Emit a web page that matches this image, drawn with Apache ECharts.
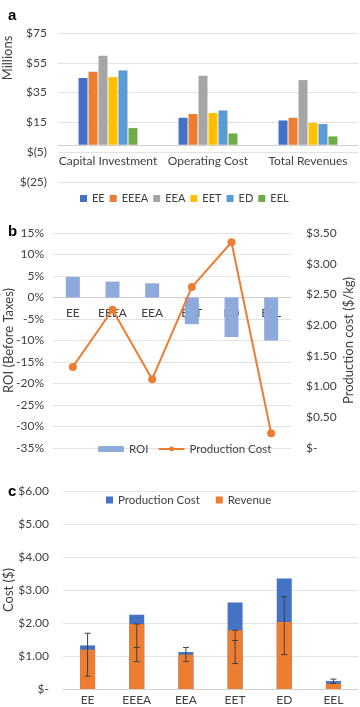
<!DOCTYPE html>
<html>
<head>
<meta charset="utf-8">
<script src="https://cdn.jsdelivr.net/npm/echarts@6/dist/echarts.min.js"></script>
<style>
  html, body { margin: 0; padding: 0; background: #fff; }
  #chart { width: 360px; height: 707px; }
</style>
</head>
<body>
<div id="chart"></div>
<script>
// panel a: economics per process (millions $)
const costGroups = ["Capital Investment", "Operating Cost", "Total Revenues"]
const processes = ["EE", "EEEA", "EEA", "EET", "ED", "EEL"]
const valuesEE = [44.8, 18.1, 16.3]
const valuesEEEA = [49.0, 20.6, 18.1]
const valuesEEA = [59.7, 46.3, 43.4]
const valuesEET = [45.4, 21.3, 14.6]
const valuesED = [49.9, 23.0, 13.9]
const valuesEEL = [11.2, 7.6, 5.6]

// panel b
const roi = [4.8, 3.7, 3.3, -6.2, -9.2, -10.0]
const productionCost = [1.32, 2.25, 1.12, 2.62, 3.35, 0.24]

// panel c
const revenue = [1.19, 1.97, 1.04, 1.78, 2.03, 0.16]
const errLow = [0.39, 0.83, 0.83, 0.77, 1.04, 0.17]
const errHigh = [1.69, 1.97, 1.26, 1.78, 2.80, 0.30]
const errMid = [null, 1.26, null, 1.47, null, null]

const processColors = ["#4472C4", "#ED7D31", "#A5A5A5", "#FFC000", "#5B9BD5", "#70AD47"]
const panelA = [valuesEE, valuesEEEA, valuesEEA, valuesEET, valuesED, valuesEEL]

const font = "Lato"
const textColor = "#404040"
const gridColor = "#E3E3E3"

const chart = echarts.init(document.getElementById("chart"))

const money = (v) => (v < 0 ? "$(" + Math.abs(v) + ")" : "$" + v)
const dollars = (v) => (v === 0 ? "$-" : "$" + v.toFixed(2))

const labelStyle = { color: textColor, fontFamily: font, fontSize: 12 }
const legendText = { color: textColor, fontFamily: font, fontSize: 11 }
const nameStyle = { color: textColor, fontFamily: font, fontSize: 13 }
const panelTitle = { fontFamily: "Arial", fontWeight: "bold", fontSize: 15, color: "#000" }

const option = {
  animation: false,
  textStyle: { fontFamily: font },
  title: [
    { text: "a", left: 3, top: 3, textStyle: panelTitle },
    { text: "b", left: 3, top: 219, textStyle: panelTitle },
    { text: "c", left: 3, top: 479, textStyle: panelTitle },
  ],
  graphic: [
    {
      type: "text",
      x: 8, y: 58,
      rotation: Math.PI / 2,
      style: { text: "Millions", fill: textColor, font: "13px Lato", align: "center", verticalAlign: "middle" },
    },
  ],
  legend: [
    {
      data: processes,
      top: 188, left: 75,
      itemWidth: 7, itemHeight: 7, itemGap: 5,
      icon: "rect",
      textStyle: legendText,
    },
    {
      data: ["ROI", "Production Cost"],
      top: 438, left: 93,
      itemWidth: 26, itemHeight: 6, itemGap: 9,
      textStyle: { ...legendText, fontSize: 11.5 },
    },
    {
      data: ["Production Cost (c)", "Revenue"],
      top: 489, left: 101,
      itemWidth: 7, itemHeight: 7, itemGap: 16,
      icon: "rect",
      formatter: (n) => n.replace(" (c)", ""),
      textStyle: { ...legendText, fontSize: 11.5 },
    },
  ],
  grid: [
    { left: 58, right: 2, top: 33, height: 149, outerBoundsMode: "none" },
    { left: 53, right: 69, top: 233, height: 215, outerBoundsMode: "none" },
    { left: 63, right: 2, top: 491, height: 198, outerBoundsMode: "none" },
  ],
  xAxis: [
    {
      gridIndex: 0, type: "category", data: costGroups,
      offset: -37,
      axisLine: { onZero: false, lineStyle: { color: "#D0D0D0" } },
      axisTick: { show: false },
      axisLabel: { ...labelStyle, margin: 10, interval: 0 },
    },
    {
      gridIndex: 1, type: "category", data: processes,
      offset: -150.5,
      axisLine: { onZero: false, lineStyle: { color: "#D0D0D0" } },
      axisTick: { show: false },
      axisLabel: { ...labelStyle, margin: 10, interval: 0 },
    },
    {
      gridIndex: 2, type: "category", data: processes,
      axisLine: { lineStyle: { color: "#D0D0D0" } },
      axisTick: { show: false },
      axisLabel: { ...labelStyle, margin: 5, interval: 0 },
    },
  ],
  yAxis: [
    {
      gridIndex: 0, type: "value", min: -25, max: 75, interval: 20,
      axisLabel: { ...labelStyle, margin: 11, formatter: money },
      splitLine: { lineStyle: { color: gridColor } },
    },
    {
      gridIndex: 1, type: "value", min: -35, max: 15, interval: 5,
      name: "ROI (Before Taxes)", nameLocation: "middle", nameGap: 38, nameMoveOverlap: false,
      nameTextStyle: nameStyle,
      axisLabel: { ...labelStyle, margin: 9, formatter: (v) => v + "%" },
      splitLine: { lineStyle: { color: gridColor } },
    },
    {
      gridIndex: 1, type: "value", min: 0, max: 3.5, interval: 0.5, position: "right",
      name: "Production cost ($/kg)", nameLocation: "middle", nameGap: 51, nameMoveOverlap: false,
      nameTextStyle: nameStyle,
      axisLabel: { ...labelStyle, margin: 15, formatter: dollars },
      splitLine: { show: false },
    },
    {
      gridIndex: 2, type: "value", min: 0, max: 6, interval: 1,
      name: "Cost ($)", nameLocation: "middle", nameGap: 48, nameMoveOverlap: false,
      nameTextStyle: nameStyle,
      axisLabel: { ...labelStyle, margin: 14, formatter: dollars },
      splitLine: { lineStyle: { color: gridColor } },
    },
  ],
  series: [
    ...processes.map((p, i) => ({
      name: p,
      type: "bar",
      xAxisIndex: 0, yAxisIndex: 0,
      data: panelA[i],
      barWidth: 9, barGap: "11%",
      itemStyle: { color: processColors[i] },
    })),
    {
      name: "ROI",
      type: "bar",
      xAxisIndex: 1, yAxisIndex: 1,
      data: roi,
      barWidth: 14,
      itemStyle: { color: "#8EA9DB" },
    },
    {
      name: "Production Cost",
      type: "line",
      xAxisIndex: 1, yAxisIndex: 2,
      data: productionCost,
      symbol: "circle", symbolSize: 8,
      lineStyle: { width: 2, color: "#ED7D31" },
      itemStyle: { color: "#ED7D31" },
      z: 5,
    },
    {
      name: "Production Cost (c)",
      type: "bar",
      xAxisIndex: 2, yAxisIndex: 3,
      data: productionCost,
      barWidth: 15, barGap: "-100%",
      itemStyle: { color: "#4472C4" },
    },
    {
      name: "Revenue",
      type: "bar",
      xAxisIndex: 2, yAxisIndex: 3,
      data: revenue,
      barWidth: 15, barGap: "-100%",
      itemStyle: { color: "#ED7D31" },
    },
    {
      type: "custom",
      xAxisIndex: 2, yAxisIndex: 3,
      data: processes.map((p, i) => [i, errLow[i], errHigh[i]]),
      encode: { x: 0, y: [1, 2] },
      z: 10,
      renderItem: (params, api) => {
        const i = api.value(0)
        const lo = api.coord([i, api.value(1)])
        const hi = api.coord([i, api.value(2)])
        const half = 3
        const style = { stroke: "#404040", lineWidth: 1 }
        const children = [
          { type: "line", shape: { x1: lo[0], y1: lo[1], x2: hi[0], y2: hi[1] }, style },
          { type: "line", shape: { x1: lo[0] - half, y1: lo[1], x2: lo[0] + half, y2: lo[1] }, style },
          { type: "line", shape: { x1: hi[0] - half, y1: hi[1], x2: hi[0] + half, y2: hi[1] }, style },
        ]
        const mid = errMid[params.dataIndex]
        if (mid != null) {
          const m = api.coord([i, mid])
          children.push({ type: "line", shape: { x1: m[0] - half, y1: m[1], x2: m[0] + half, y2: m[1] }, style })
        }
        return { type: "group", children }
      },
    },
  ],
}

chart.setOption(option)
</script>
</body>
</html>
